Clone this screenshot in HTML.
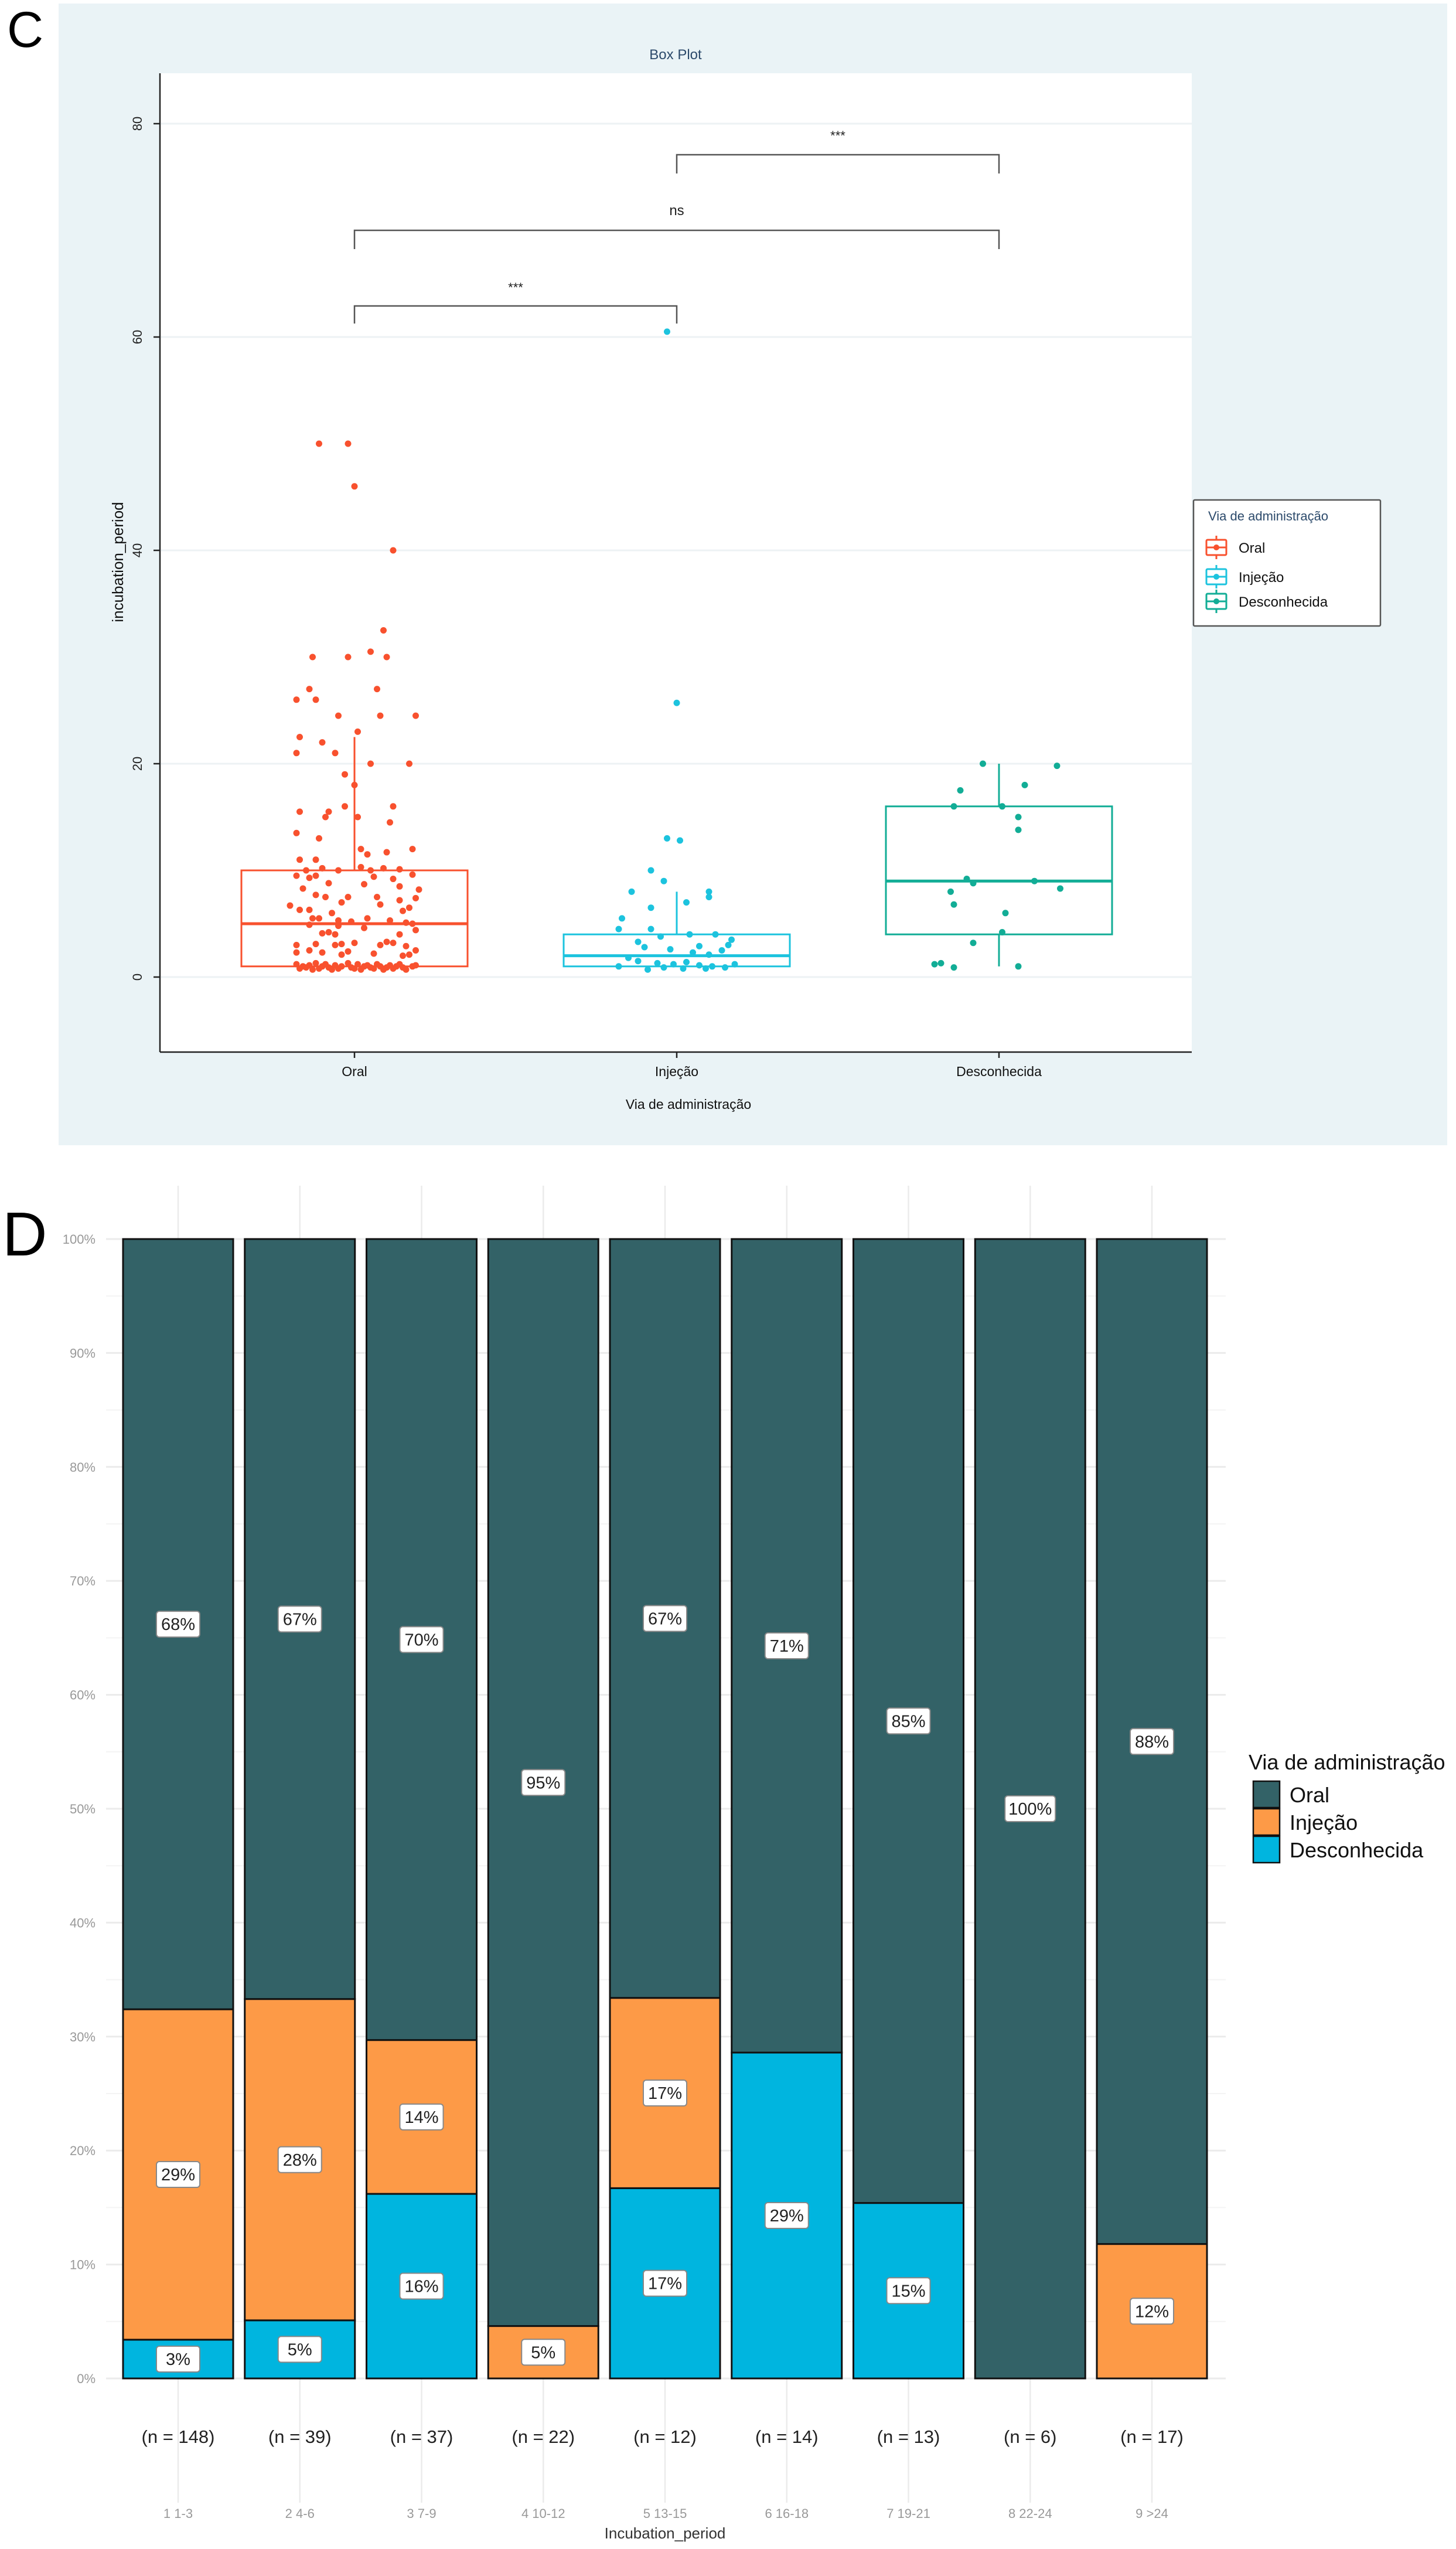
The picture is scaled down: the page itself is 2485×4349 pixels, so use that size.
<!DOCTYPE html>
<html><head><meta charset="utf-8"><style>
html,body{margin:0;padding:0;background:#fff;}
svg{display:block;font-family:"Liberation Sans",Arial,sans-serif;}
</style></head><body>
<svg id="root" width="2485" height="4349" viewBox="0 0 2485 4349" xmlns="http://www.w3.org/2000/svg">
<rect x="100" y="6" width="2370" height="1948" fill="#EAF3F6"/>
<text x="12" y="80" font-size="86" fill="#000">C</text>
<text x="1153" y="101" font-size="24" fill="#2C4A6B" text-anchor="middle">Box Plot</text>
<rect x="273" y="125" width="1761" height="1670" fill="#fff"/>
<g id="cgrid"></g>
<g id="cmarks"></g>
<line x1="273" y1="125" x2="273" y2="1795" stroke="#222" stroke-width="2.5"/>
<line x1="273" y1="1795" x2="2034" y2="1795" stroke="#222" stroke-width="2.5"/>
<text transform="translate(210,959) rotate(-90)" font-size="26" text-anchor="middle" fill="#111">incubation_period</text>
<text x="1175" y="1892" font-size="23" text-anchor="middle" fill="#111">Via de administração</text>
<g>
<rect x="2037" y="853" width="319" height="215" fill="#fff" stroke="#555" stroke-width="2.5" rx="2"/>
<text x="2062" y="888" font-size="22" fill="#2C4A6B">Via de administração</text>
<g id="clegend"></g>
</g>
<g id="dchart"></g>
<text x="4" y="2142" font-size="106" fill="#000">D</text>
<text x="1135" y="4331" font-size="26" text-anchor="middle" fill="#333">Incubation_period</text>
<g>
<text x="2131" y="3019" font-size="36" fill="#111">Via de administração</text>
<g id="dlegend"></g>
</g>
</svg>
<script>
// ---------- Panel C data ----------
const cCategories = ["Oral","Injeção","Desconhecida"];
const cColors = ["#F8512E","#1CC3DE","#12AD96"];
const cQ1 = [1,1,4];
const cMedian = [5,2,9];
const cQ3 = [10,4,16];
const cWhiskLo = [1,1,1];
const cWhiskHi = [22.5,8,20];
const cYTicks = [0,20,40,60,80];
const oralValues = [50,50,46,40,32.5,30,30,30.5,30,27,27,26,26,24.5,24.5,24.5,23,22.5,22,21,21,20,20,19,18,16,15.5,15.5,16,15,15,14.5,13.5,13,12,12,11,
10,10.2,10,10.3,10,10.2,10.1,11.5,11.7,11,9.5,9.3,9.5,9.4,9.2,9.6,8.8,8.7,8.5,8.2,8.3,7.7,7.5,7.5,7.2,7.4,7.5,7,6.7,6.3,6,6.5,6.2,6.8,6.3,
5.5,5.5,5.3,5.2,5.5,5.3,5.1,5,4.9,4.8,4.1,4.2,4,4.6,4.4,4,3.1,3,3.1,3.2,3,3.3,3.2,2.9,2.5,3,2.3,2.5,2.3,2.1,2.4,2.2,2,2.1,
1.2,0.8,1,0.9,1.1,0.7,1.3,0.8,1,1.2,0.9,0.7,1.1,0.8,1,1.3,0.9,0.8,1.2,0.7,1,1.1,0.9,0.8,1.2,1,0.7,0.9,1.1,0.8,1,1.2,0.9,0.7,1,1.1];
const oralJitter = [-0.11,-0.02,0,0.12,0.09,-0.13,-0.02,0.05,0.1,-0.14,0.07,-0.18,-0.12,-0.05,0.08,0.19,0.01,-0.17,-0.1,-0.18,-0.06,0.05,0.17,-0.03,0,0.12,-0.17,-0.08,-0.03,-0.09,0.01,0.11,-0.18,-0.11,0.18,0.02,-0.17,
-0.15,-0.1,-0.05,0.02,0.05,0.09,0.14,0.04,0.1,-0.12,-0.18,-0.14,-0.12,0.06,0.12,0.18,-0.08,0.03,0.14,0.2,-0.16,-0.12,-0.09,-0.02,0.14,0.19,0.07,-0.04,-0.2,-0.17,-0.07,0.17,0.15,0.08,-0.14,
-0.13,-0.11,-0.05,-0.01,0.04,0.11,0.16,0.18,-0.14,-0.05,-0.1,-0.08,-0.06,0.03,0.19,0.14,-0.12,-0.06,-0.04,0,0.08,0.1,0.12,0.16,0.19,-0.18,-0.18,-0.14,-0.1,-0.04,-0.02,0.06,0.15,0.17,
-0.18,-0.17,-0.16,-0.15,-0.14,-0.13,-0.12,-0.11,-0.1,-0.09,-0.08,-0.07,-0.06,-0.05,-0.04,-0.02,-0.01,0,0.01,0.02,0.03,0.04,0.05,0.06,0.07,0.08,0.09,0.1,0.11,0.12,0.13,0.14,0.15,0.16,0.18,0.19];
const injValues = [60.5,25.7,13,12.8,10,9,8,8,6.5,7,5.5,7.5,4.5,4.5,4,4,3.5,3,3.8,2.8,2.6,2.3,2.1,2.5,1.8,1.5,1.3,1.2,1.4,1.1,1,0.9,0.8,0.7,1,0.9,0.8,1.2,3.3,2.9];
const injJitter = [-0.03,0,-0.03,0.01,-0.08,-0.04,-0.14,0.1,-0.08,0.03,-0.17,0.1,-0.18,-0.08,0.04,0.12,0.17,0.16,-0.05,-0.1,-0.02,0.05,0.1,0.14,-0.15,-0.12,-0.06,-0.01,0.03,0.07,0.11,0.15,0.09,-0.09,-0.18,-0.04,0.02,0.18,-0.12,0.07];
const descValues = [20,19.8,17.5,18,16,16,15,13.8,9.2,8.8,9,8.3,8,6.8,6,4.2,3.2,1.2,1.3,0.9,1];
const descJitter = [-0.05,0.18,-0.12,0.08,-0.14,0.01,0.06,0.06,-0.1,-0.08,0.11,0.19,-0.15,-0.14,0.02,0.01,-0.08,-0.2,-0.18,-0.14,0.06];
const brackets = [[0,1,"***"],[0,2,"ns"],[1,2,"***"]];

const NS="http://www.w3.org/2000/svg";
function mk(tag, attrs, parent){const e=document.createElementNS(NS,tag);for(const k in attrs)e.setAttribute(k,attrs[k]);parent.appendChild(e);return e;}
function cx(i){return 605+i*550;}
function cy(v){return 1667-v*18.2;}
const cgrid=document.getElementById('cgrid');
const cmarks=document.getElementById('cmarks');
cYTicks.forEach(t=>{
  const l=mk('line',{x1:273,x2:2034,y1:cy(t),y2:cy(t),stroke:'#EDF2F4','stroke-width':3},cgrid);
  
  
  const tk=mk('line',{x1:262,x2:273,y1:cy(t),y2:cy(t),stroke:'#222','stroke-width':2.5},cgrid);
  
  
  const tx=mk('text',{transform:`translate(242,${cy(t)}) rotate(-90)`,'font-size':22,'text-anchor':'middle',fill:'#222'},cgrid);
  tx.textContent=t;
  
  
});
cCategories.forEach((c,i)=>{
  const x=cx(i), col=cColors[i], hw=193;
  const tk=mk('line',{x1:x,x2:x,y1:1795,y2:1805,stroke:'#222','stroke-width':2.5},cmarks);
  
  
  const tx=mk('text',{x:x,y:1836,'font-size':23,'text-anchor':'middle',fill:'#111'},cmarks);
  tx.textContent=c;
  
  
  const w1=mk('line',{x1:x,x2:x,y1:cy(cQ3[i]),y2:cy(cWhiskHi[i]),stroke:col,'stroke-width':3},cmarks);
  
  
  const w2=mk('line',{x1:x,x2:x,y1:cy(cQ1[i]),y2:cy(cWhiskLo[i]),stroke:col,'stroke-width':3},cmarks);
  
  
  const b=mk('rect',{x:x-hw,y:cy(cQ3[i]),width:hw*2,height:cy(cQ1[i])-cy(cQ3[i]),fill:'none',stroke:col,'stroke-width':3},cmarks);
  
  
  const m=mk('line',{x1:x-hw,x2:x+hw,y1:cy(cMedian[i]),y2:cy(cMedian[i]),stroke:col,'stroke-width':5},cmarks);
  
  
});
function drawPts(vals,jit,i){
  vals.forEach((v,k)=>{
    const p=mk('circle',{cx:cx(i)+jit[k]*550,cy:cy(v),r:5.5,fill:cColors[i]},cmarks);
    
    
  });
}
drawPts(oralValues,oralJitter,0);
drawPts(injValues,injJitter,1);
drawPts(descValues,descJitter,2);
const bracketY=[[522,552,490],[393,425,367],[264,296,231]];
brackets.forEach((br,k)=>{
  const [a,b,lab]=br, y=bracketY[k];
  const p=mk('path',{d:`M${cx(a)},${y[1]} L${cx(a)},${y[0]} L${cx(b)},${y[0]} L${cx(b)},${y[1]}`,fill:'none',stroke:'#555','stroke-width':2.5},cmarks);
  
  
  const t=mk('text',{x:(cx(a)+cx(b))/2,y:y[2]+(lab==='ns'?0:8),'font-size':lab==='ns'?24:22,'text-anchor':'middle',fill:'#222'},cmarks);
  t.textContent=lab;
  
  
});
const clegend=document.getElementById('clegend');
[943,993,1035].forEach((yy,i)=>{
  const g=mk('g',{},clegend);
  
  
  const c=cColors[i], x=2076, y=yy-9;
  mk('line',{x1:x,x2:x,y1:y-20,y2:y+20,stroke:c,'stroke-width':3},g);
  mk('rect',{x:x-17,y:y-13,width:34,height:26,fill:'#fff',stroke:c,'stroke-width':3,rx:2},g);
  mk('line',{x1:x-17,x2:x+17,y1:y,y2:y,stroke:c,'stroke-width':3},g);
  mk('circle',{cx:x,cy:y,r:5,fill:c},g);
  const t=mk('text',{x:2114,y:yy,'font-size':24,fill:'#111'},g);
  t.textContent=cCategories[i];
});

// ---------- Panel D data ----------
const dCategories = ["1 1-3","2 4-6","3 7-9","4 10-12","5 13-15","6 16-18","7 19-21","8 22-24","9 >24"];
const dCounts = [148,39,37,22,12,14,13,6,17];
const dOral = [67.6,66.7,70.3,95.4,66.6,71.4,84.6,100,88.2];
const dInjecao = [29.0,28.2,13.5,4.6,16.7,0,0,0,11.8];
const dDesconhecida = [3.4,5.1,16.2,0,16.7,28.6,15.4,0,0];
const dYTicks = [0,10,20,30,40,50,60,70,80,90,100];
const dSeriesNames = ["Oral","Injeção","Desconhecida"];
const dColors = ["#336267","#FD9A47","#00B5DF"];

const dg=document.getElementById('dchart');
function dx(i){return 304+i*207.75;}
function dy(p){return 4058-p*19.44;}
for(let p=0;p<=100;p+=5){
  const l=mk('line',{x1:181,x2:2092,y1:dy(p),y2:dy(p),stroke:p%10===0?'#EBEBEB':'#F4F4F4','stroke-width':p%10===0?3:2},dg);
  
  
}
dYTicks.forEach(t=>{
  const tx=mk('text',{x:163,y:dy(t)+8,'font-size':22,'text-anchor':'end',fill:'#999'},dg);
  tx.textContent=t+'%';
  
  
});
dCategories.forEach((c,i)=>{
  const l=mk('line',{x1:dx(i),x2:dx(i),y1:2023,y2:4270,stroke:'#EBEBEB','stroke-width':2.5},dg);
  
  
});
const labels=[];
dCategories.forEach((c,i)=>{
  const segs=[[dDesconhecida[i],dColors[2],'desconhecida'],[dInjecao[i],dColors[1],'injecao'],[dOral[i],dColors[0],'oral']];
  let base=0;
  segs.forEach(s=>{
    if(s[0]<=0) return;
    const r=mk('rect',{x:dx(i)-94,y:dy(base+s[0]),width:188,height:dy(base)-dy(base+s[0]),fill:s[1],stroke:'#111','stroke-width':3},dg);
    
    
    labels.push([dx(i),dy(base+s[0]/2),Math.round(s[0])+'%']);
    base+=s[0];
  });
  const n=mk('text',{x:dx(i),y:4168,'font-size':31,'text-anchor':'middle',fill:'#222'},dg);
  n.textContent='(n = '+dCounts[i]+')';
  
  
  const t=mk('text',{x:dx(i),y:4296,'font-size':22,'text-anchor':'middle',fill:'#999'},dg);
  t.textContent=c;
  
  
});
labels.forEach(L=>{
  const w=L[2].length>3?86:74;
  const r=mk('rect',{x:L[0]-w/2,y:L[1]-22,width:w,height:44,rx:5,fill:'#fff',stroke:'#888','stroke-width':2},dg);
  
  
  const t=mk('text',{x:L[0],y:L[1]+10,'font-size':29,'text-anchor':'middle',fill:'#222'},dg);
  t.textContent=L[2];
  
  
});
const dl=document.getElementById('dlegend');
dSeriesNames.forEach((s,i)=>{
  const g=mk('g',{},dl);
  
  
  mk('rect',{x:2139,y:3039+i*47,width:45,height:45,fill:dColors[i],stroke:'#111','stroke-width':2.5},g);
  const t=mk('text',{x:2201,y:3075+i*47,'font-size':36,fill:'#111'},g);
  t.textContent=s;
});
</script>
</body></html>
